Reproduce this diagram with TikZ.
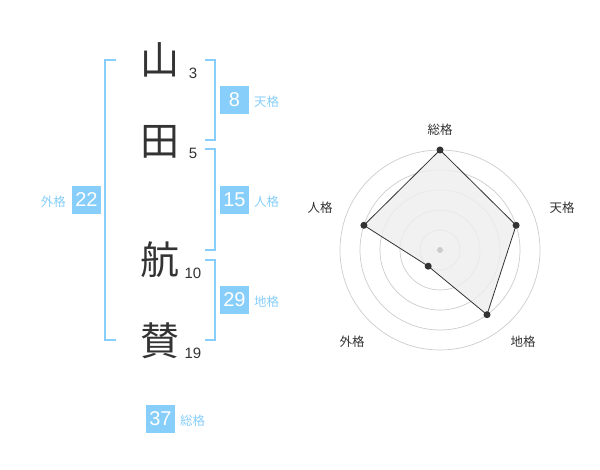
\documentclass[tikz,border=0pt]{standalone}
\usepackage{fontspec}
\setmainfont{Noto Sans CJK JP}
\newfontfamily\digits{Liberation Sans}
\definecolor{sky}{HTML}{87CEFA}
\definecolor{ink}{HTML}{333333}
\definecolor{ring}{HTML}{CCCCCC}
\definecolor{area}{HTML}{EEEEEE}
\tikzset{
  kanji/.style={inner sep=0pt, text=ink, font=\fontsize{39}{39}\selectfont},
  strokes/.style={inner sep=0pt, text=ink, font=\digits\fontsize{15}{15}\selectfont},
  numbox/.style={fill=sky, text=white, minimum width=29pt, minimum height=28pt, inner sep=0pt, font=\digits\fontsize{20}{20}\selectfont},
  kaku/.style={inner sep=0pt, text=sky, font=\fontsize{12.5}{12.5}\selectfont},
  bracket/.style={draw=sky, line width=1.6pt},
  radlabel/.style={inner sep=0pt, text=ink, font=\fontsize{12.5}{12.5}\selectfont},
  rings/.style={draw=ring, line width=0.7pt},
  vdot/.style={circle, fill=ink, inner sep=0pt, minimum size=7pt},
}
\begin{document}
\begin{tikzpicture}[x=1pt,y=-1pt]
\useasboundingbox (0,0) rectangle (600,470);
% characters
\node[kanji] (c1) at (160,60) {山};
\node[kanji] (c2) at (160,142) {田};
\node[kanji] (c3) at (160,260) {航};
\node[kanji] (c4) at (160,341) {賛};
\node[strokes] (n1) at (193,73) {3};
\node[strokes] (n2) at (193,153) {5};
\node[strokes] (n3) at (193,273) {10};
\node[strokes] (n4) at (193,353) {19};
% brackets
\draw[bracket] (116,60) -- (105,60) -- (105,340) -- (116,340);
\draw[bracket] (205,60) -- (215,60) -- (215,140) -- (205,140);
\draw[bracket] (205,149) -- (215,149) -- (215,250) -- (205,250);
\draw[bracket] (205,260) -- (215,260) -- (215,340) -- (205,340);
% boxes
\node[numbox] (b8) at (234.5,100) {8};
\node[kaku,anchor=west] (l8) at (254,102) {天格};
\node[numbox] (b15) at (234.5,200) {15};
\node[kaku,anchor=west] (l15) at (254,202) {人格};
\node[numbox] (b22) at (86.5,200) {22};
\node[kaku,anchor=east] (l22) at (66,202) {外格};
\node[numbox] (b29) at (234.5,300) {29};
\node[kaku,anchor=west] (l29) at (254,302) {地格};
\node[numbox] (b37) at (160.5,419) {37};
\node[kaku,anchor=west] (l37) at (180,421) {総格};
% radar
\foreach \r in {20,40,60,80,100} \draw[rings] (440,250) circle[radius=\r];
\coordinate (pS) at (440,150);
\coordinate (pT) at (516.1,225.3);
\coordinate (pC) at (487.0,314.7);
\coordinate (pG) at (428.2,266.2);
\coordinate (pJ) at (363.9,225.3);
\fill[area, opacity=0.85] (pS) -- (pT) -- (pC) -- (pG) -- (pJ) -- cycle;
\draw[ink, line width=0.8pt] (pS) -- (pT) -- (pC) -- (pG) -- (pJ) -- cycle;
\node[circle, fill=ring, inner sep=0pt, minimum size=6pt] (ctr) at (440,250) {};
\foreach \p in {pS,pT,pC,pG,pJ} \node[vdot] at (\p) {};
\node[radlabel] (rS) at (440,130) {総格};
\node[radlabel] (rT) at (562,208) {天格};
\node[radlabel] (rC) at (523,342) {地格};
\node[radlabel] (rG) at (352,342) {外格};
\node[radlabel] (rJ) at (320,208) {人格};
\end{tikzpicture}
\end{document}
